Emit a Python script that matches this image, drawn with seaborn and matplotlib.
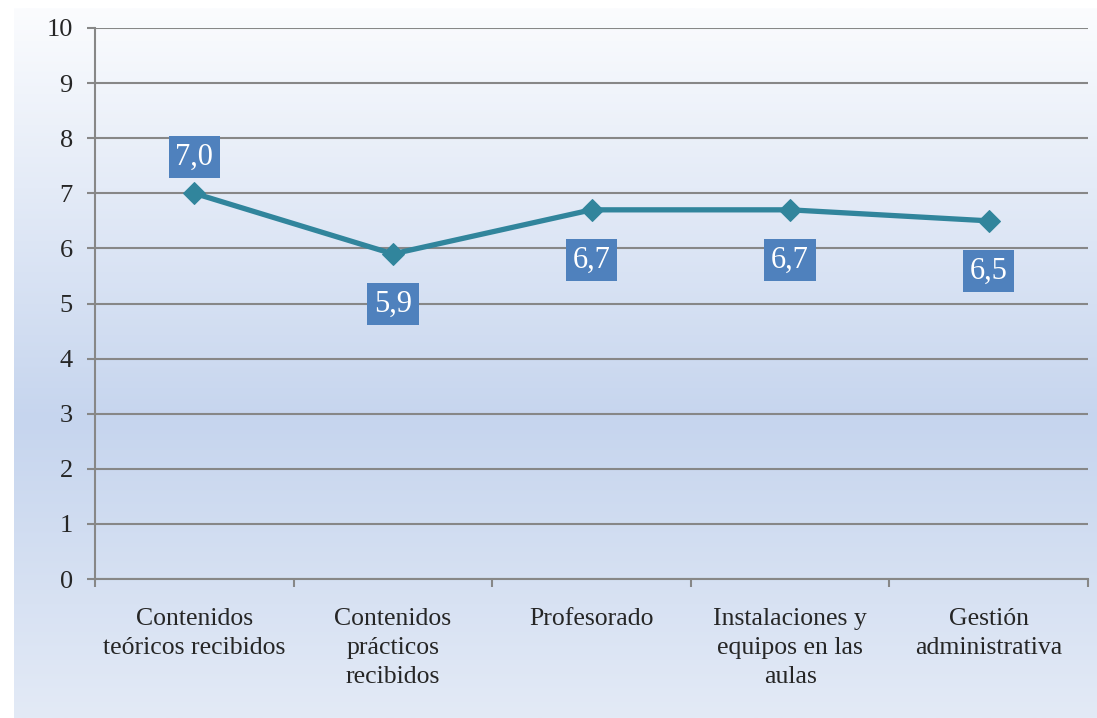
import numpy as np
import matplotlib
matplotlib.use("Agg")
import matplotlib.pyplot as plt
from matplotlib.colors import LinearSegmentedColormap
import seaborn as sns

categorias = [
    "Contenidos\nteóricos recibidos",
    "Contenidos\nprácticos\nrecibidos",
    "Profesorado",
    "Instalaciones y\nequipos en las\naulas",
    "Gestión\nadministrativa",
]
valores = [7.0, 5.9, 6.7, 6.7, 6.5]
etiquetas = ["7,0", "5,9", "6,7", "6,7", "6,5"]
etiqueta_arriba = [True, False, False, False, False]

sns.set_theme(style="white")
plt.rcParams["font.family"] = ["Liberation Serif", "DejaVu Serif"]

fig = plt.figure(figsize=(10.97, 7.18), dpi=100)
fig.patch.set_facecolor("white")

# fondo degradado del area del grafico
bg = fig.add_axes([14 / 1097, 0, 1 - 14 / 1097, 710 / 718], zorder=0)
cmap = LinearSegmentedColormap.from_list(
    "fondo", [(0, "#fbfcfe"), (0.58, "#c6d5ee"), (1, "#e3eaf6")]
)
grad = np.linspace(0, 1, 256).reshape(-1, 1)
bg.imshow(grad, aspect="auto", cmap=cmap, extent=[0, 1, 0, 1], origin="upper")
bg.set_axis_off()

ax = fig.add_axes([95 / 1097, 1 - 579 / 718, (1088 - 95) / 1097, (579 - 28) / 718], zorder=1)
ax.patch.set_alpha(0)

sns.lineplot(
    x=np.arange(len(valores)), y=valores, ax=ax, color="#31859c", linewidth=3.8,
    marker="D", markersize=11, markeredgecolor="#31859c", zorder=3,
)

ax.set_xlim(-0.5, len(valores) - 0.5)
ax.set_ylim(0, 10)
ax.set_yticks(range(0, 11))
ax.yaxis.grid(True, color="#878787", linewidth=1.5)
ax.set_axisbelow(True)

ax.set_xticks(np.arange(len(valores)))
ax.set_xticklabels(categorias, fontsize=18.5, linespacing=1.4, va="top")
ax.set_xticks(np.arange(-0.5, len(valores)), minor=True)
ax.tick_params(axis="x", which="major", length=0, pad=21)
ax.tick_params(axis="x", which="minor", length=6, width=1.5, color="#878787", direction="out", bottom=True)
ax.tick_params(axis="y", length=6, width=1.5, color="#878787", direction="out", left=True, labelsize=19, pad=10)

for s in ["top", "right"]:
    ax.spines[s].set_visible(False)
for s in ["left", "bottom"]:
    ax.spines[s].set_color("#878787")
    ax.spines[s].set_linewidth(1.5)

for i, (v, t, arriba) in enumerate(zip(valores, etiquetas, etiqueta_arriba)):
    off = 26 if arriba else -36
    ax.annotate(
        t, (i, v), xytext=(0, off), textcoords="offset points",
        ha="center", va="center", color="white", fontsize=22, zorder=4,
        bbox=dict(boxstyle="square,pad=0.22", facecolor="#4f81bd", edgecolor="none"),
    )

ax.set_xlabel("")
ax.set_ylabel("")

fig.savefig("out.png", dpi=100)
